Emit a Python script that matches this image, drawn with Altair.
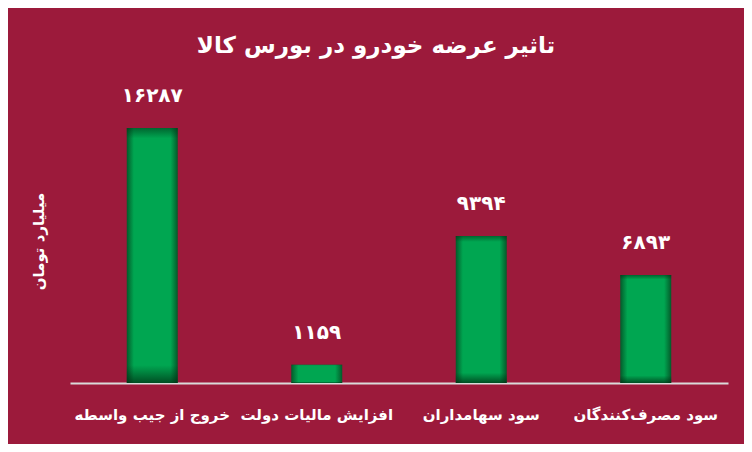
import altair as alt
import pandas as pd

categories = ["خروج از جیب واسطه", "افزایش مالیات دولت", "سود سهامداران", "سود مصرف‌کنندگان"]
values = [16287, 1159, 9394, 6893]
value_labels = ["۱۶۲۸۷", "۱۱۵۹", "۹۳۹۴", "۶۸۹۳"]

df = pd.DataFrame({"cat": categories, "val": values, "lbl": value_labels})

BG = "#9C1A3B"
FONT = "DejaVu Sans"

x_enc = alt.X("cat:N", sort=categories,
              scale=alt.Scale(paddingInner=0.69, paddingOuter=0.345),
              axis=alt.Axis(title=None, labelAngle=0, labelColor="white", labelFont=FONT,
                            labelFontSize=15, labelFontWeight="bold", labelPadding=24,
                            ticks=False, domain=True, domainColor="#DADADA", domainWidth=2,
                            labelLimit=300))
y_enc = alt.Y("val:Q", scale=alt.Scale(domain=[0, 20000], nice=False),
              axis=alt.Axis(title="میلیارد تومان", labels=False, ticks=False, domain=False,
                            grid=False, titleColor="white", titleFont=FONT, titleFontSize=15,
                            titleFontWeight="bold", titlePadding=24, titleY=171))

base = alt.Chart(df)

h_grad = alt.Gradient(gradient="linear", x1=0, x2=1, y1=0, y2=0,
                      stops=[alt.GradientStop(offset=0, color="#045A2A"),
                             alt.GradientStop(offset=0.14, color="#00A651"),
                             alt.GradientStop(offset=0.86, color="#00A651"),
                             alt.GradientStop(offset=1, color="#045A2A")])
v_grad = alt.Gradient(gradient="linear", x1=0, x2=0, y1=0, y2=1,
                      stops=[alt.GradientStop(offset=0, color="rgba(0,50,20,0.55)"),
                             alt.GradientStop(offset=0.04, color="rgba(0,50,20,0)"),
                             alt.GradientStop(offset=0.93, color="rgba(0,50,20,0)"),
                             alt.GradientStop(offset=1, color="rgba(0,40,15,0.7)")])

bars = base.mark_bar(color=h_grad).encode(x=x_enc, y=y_enc)
shade = base.mark_bar(color=v_grad).encode(x=x_enc, y=y_enc)
labels = base.mark_text(baseline="bottom", dy=-22, color="white", font=FONT,
                        fontSize=20, fontWeight="bold").encode(x=x_enc, y=y_enc, text="lbl:N")

chart = alt.layer(bars, shade, labels).properties(
    width=658, height=313,
    background=BG,
    padding={"left": 62, "top": 62, "right": 16, "bottom": 61},
    autosize=alt.AutoSizeParams(type="none"),
    title=alt.TitleParams("تاثیر عرضه خودرو در بورس کالا", color="white", font=FONT,
                          fontSize=23, fontWeight="bold", anchor="middle", dx=-23, offset=12),
).configure_view(stroke=None)

chart.save("out.html", embed_options={"renderer": "svg", "actions": False})
